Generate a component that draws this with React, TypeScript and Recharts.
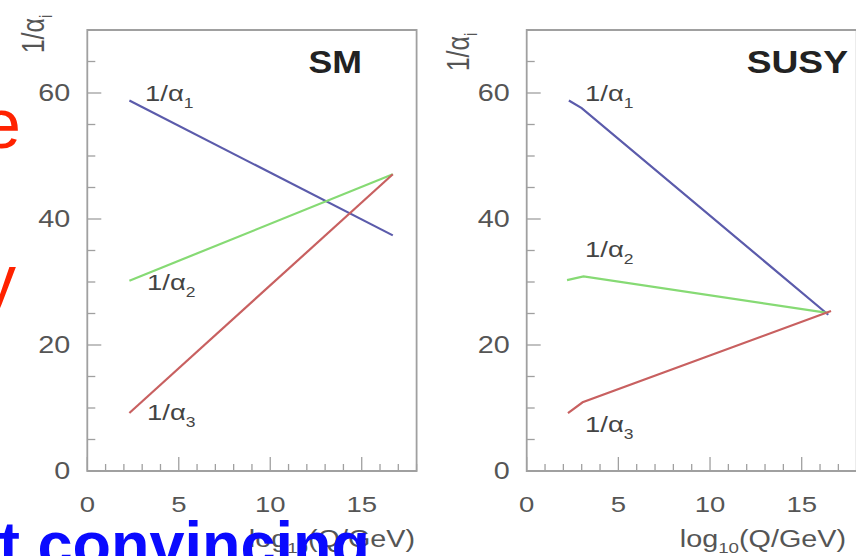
import React from 'react';
import {LineChart, Line, XAxis, YAxis, ReferenceArea} from 'recharts';

// x axis: log10(Q/GeV), y axis: 1/alpha_i
const xTicks = [0, 1, 2, 3, 4, 5, 6, 7, 8, 9, 10, 11, 12, 13, 14, 15, 16, 17, 18];
const yTicks = [0, 5, 10, 15, 20, 25, 30, 35, 40, 45, 50, 55, 60, 65, 70];
const majorXLabels = [0, 5, 10, 15];
const majorYLabels = [0, 20, 40, 60];

// Standard Model running (straight lines)
const smLogQ = [2.3, 16.7];
const smInvAlpha1 = [58.8, 37.4];
const smInvAlpha2 = [30.2, 47.1];
const smInvAlpha3 = [9.2, 47.1];

// SUSY running (kink at the SUSY threshold)
const susyLogQ1 = [2.3, 3.0, 16.45];
const susyInvAlpha1 = [58.8, 57.6, 24.8];
const susyLogQ2 = [2.2, 3.1, 16.4];
const susyInvAlpha2 = [30.3, 30.9, 25.1];
const susyLogQ3 = [2.25, 3.05, 16.6];
const susyInvAlpha3 = [9.2, 10.9, 25.4];

const BLUE = '#5b5bab';
const GREEN = '#86da74';
const RED = '#c86060';
const FRAME = '#a0a0a0';
const TXT = '#555555';
const FONT = '"Liberation Sans", Arial, sans-serif';
const SX = 1.25; // chart image was stretched sideways on the slide

const toPoints = (xs: number[], ys: number[]) => xs.map((q, i) => ({q, v: ys[i]}));

const XTick = (props: any) => {
    const {x, y, payload} = props;
    const major = payload.value % 5 === 0;
    return (
        <g>
            <line x1={x} y1={y} x2={x} y2={y - (major ? 14 : 7)} stroke={FRAME} strokeWidth={1.3} />
            {majorXLabels.includes(payload.value) && (
                <text transform={`translate(${x},${y + 41}) scale(${SX},1)`} textAnchor="middle"
                      fontSize={22} fontFamily={FONT} fill={TXT}>{payload.value}</text>
            )}
        </g>
    );
};

const YTick = (props: any) => {
    const {x, y, payload} = props;
    const major = payload.value % 20 === 0;
    return (
        <g>
            <line x1={x} y1={y} x2={x + (major ? 14 : 8)} y2={y} stroke={FRAME} strokeWidth={1.3} />
            {majorYLabels.includes(payload.value) && (
                <text transform={`translate(${x - 17},${y + 8}) scale(${SX},1)`} textAnchor="end"
                      fontSize={23} fontFamily={FONT} fill={TXT}>{payload.value}</text>
            )}
        </g>
    );
};

type Series = { xs: number[]; ys: number[]; color: string; name: string };

const Panel = ({series, left, marginLeft, marginRight}: {
    series: Series[]; left: number; marginLeft: number; marginRight: number;
}) => (
    <div style={{position: 'absolute', left, top: 0}}>
        <LineChart width={430} height={556} margin={{top: 30, right: marginRight, left: marginLeft, bottom: 45}}>
            <XAxis type="number" dataKey="q" domain={[0, 18]} ticks={xTicks} interval={0} allowDataOverflow
                   tickSize={0} tickMargin={0} axisLine={false} tick={<XTick />} height={40} />
            <YAxis type="number" dataKey="v" domain={[0, 70]} ticks={yTicks} interval={0} allowDataOverflow
                   tickSize={0} tickMargin={0} axisLine={false} tick={<YTick />} width={40} />
            <ReferenceArea x1={0} x2={18} y1={0} y2={70} fill="none" stroke={FRAME} strokeWidth={1.8} />
            {series.map(s => (
                <Line key={s.name} data={toPoints(s.xs, s.ys)} dataKey="v" name={s.name} stroke={s.color}
                      strokeWidth={2.2} dot={false} type="linear" isAnimationActive={false} />
            ))}
        </LineChart>
    </div>
);

const Lbl = ({x, y, sub}: { x: number; y: number; sub: string }) => (
    <text transform={`translate(${x},${y}) scale(${SX},1)`} fontSize={22} fontFamily={FONT} fill="#444">
        <tspan>1/α</tspan>
        <tspan dy={7} fontSize={14}>{sub}</tspan>
    </text>
);

const XTitle = ({x, y}: { x: number; y: number }) => (
    <text transform={`translate(${x},${y}) scale(${SX},1)`} textAnchor="end" fontSize={23} fontFamily={FONT} fill={TXT}>
        <tspan>log</tspan>
        <tspan dy={6} fontSize={15}>10</tspan>
        <tspan dy={-6}>(Q/GeV)</tspan>
    </text>
);

const YTitle = ({x, y}: { x: number; y: number }) => (
    <text transform={`translate(${x},${y}) rotate(-90) scale(1,${SX})`} textAnchor="middle" fontSize={25} fontFamily={FONT} fill={TXT}>
        <tspan>1/α</tspan>
        <tspan dy={6} fontSize={15}>i</tspan>
    </text>
);

const smSeries: Series[] = [
    {xs: smLogQ, ys: smInvAlpha1, color: BLUE, name: '1/α1'},
    {xs: smLogQ, ys: smInvAlpha2, color: GREEN, name: '1/α2'},
    {xs: smLogQ, ys: smInvAlpha3, color: RED, name: '1/α3'},
];

const susySeries: Series[] = [
    {xs: susyLogQ1, ys: susyInvAlpha1, color: BLUE, name: '1/α1'},
    {xs: susyLogQ2, ys: susyInvAlpha2, color: GREEN, name: '1/α2'},
    {xs: susyLogQ3, ys: susyInvAlpha3, color: RED, name: '1/α3'},
];

export default function App() {
    return (
        <div style={{position: 'absolute', left: 0, top: 0, width: 856, height: 556, overflow: 'hidden', background: '#fff'}}>
            <Panel series={smSeries} left={0} marginLeft={47.3} marginRight={13.4} />
            <Panel series={susySeries} left={430} marginLeft={56.7} marginRight={3.3} />
            <svg width={856} height={556} style={{position: 'absolute', left: 0, top: 0, pointerEvents: 'none'}}>
                <YTitle x={44} y={34} />
                <YTitle x={469} y={52} />
                <text transform={`translate(362,73) scale(1.15,1)`} textAnchor="end" fontSize={31} fontWeight="bold"
                      fontFamily={FONT} fill="#222">SM</text>
                <text transform={`translate(848,73) scale(1.2,1)`} textAnchor="end" fontSize={31} fontWeight="bold"
                      fontFamily={FONT} fill="#222">SUSY</text>
                <Lbl x={145} y={101} sub="1" />
                <Lbl x={147} y={290} sub="2" />
                <Lbl x={147} y={420} sub="3" />
                <Lbl x={585} y={101} sub="1" />
                <Lbl x={585} y={257} sub="2" />
                <Lbl x={585} y={432} sub="3" />
                <XTitle x={415} y={547} />
                <XTitle x={846} y={547} />
                {/* slide text around the figure */}
                <text x={-18} y={148} fontSize={70} fontFamily={FONT} fill="#ff2200">e</text>
                <text x={-19} y={304} fontSize={70} fontFamily={FONT} fill="#ff2200">y</text>
                <text x={-1} y={566} fontSize={63} fontWeight="bold" fontFamily={FONT} fill="#0a0aff">t convincing</text>
            </svg>
        </div>
    );
}
